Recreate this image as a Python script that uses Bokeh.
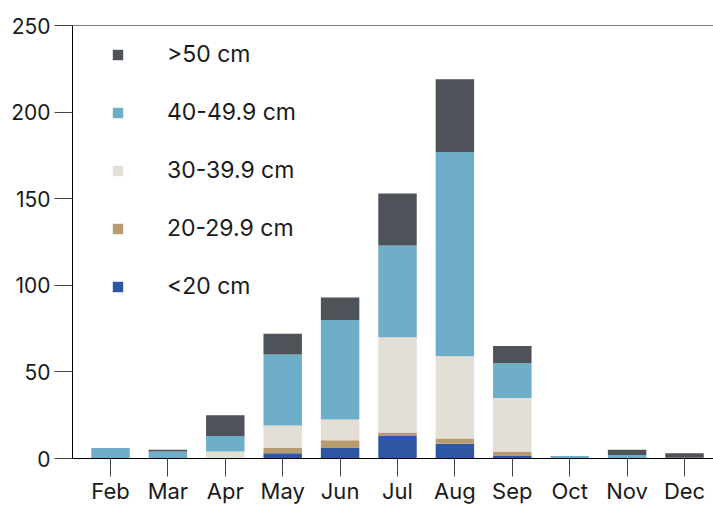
from bokeh.plotting import figure
from bokeh.models import (Range1d, FixedTicker, Legend, LegendItem, Span, ColumnDataSource)
from bokeh.embed import file_html
from bokeh.resources import INLINE

months = ["Feb", "Mar", "Apr", "May", "Jun", "Jul", "Aug", "Sep", "Oct", "Nov", "Dec"]
lt20 = [0, 0, 0, 3, 6, 13, 8.5, 1.5, 0, 0, 0]
s20_29 = [0, 0, 0, 3, 4.5, 2, 3, 2.5, 0, 0, 0.5]
s30_39 = [0, 0, 4, 13, 12, 55, 47.5, 31, 0, 0, 0]
s40_49 = [6, 4, 9, 41, 57.5, 53, 118, 20, 1.5, 2, 0]
gt50 = [0, 1, 12, 12, 13, 30, 42, 10, 0, 3, 2.5]
y_ticks = [0, 50, 100, 150, 200, 250]

series = ["lt20", "s20_29", "s30_39", "s40_49", "gt50"]
labels = ["<20 cm", "20-29.9 cm", "30-39.9 cm", "40-49.9 cm", ">50 cm"]
colors = ["#2d57a5", "#b89c6f", "#e3dfd6", "#6eaec8", "#4e5359"]

src = ColumnDataSource(dict(x=list(range(len(months))), lt20=lt20, s20_29=s20_29,
                            s30_39=s30_39, s40_49=s40_49, gt50=gt50))

FONT = "Inter"
TXT = "#1a1a1a"

p = figure(width=713, height=506, output_backend="svg", toolbar_location=None,
           x_range=Range1d(-0.662, 10.505), y_range=Range1d(0, 250),
           min_border_left=72, min_border_right=0, min_border_top=25, min_border_bottom=46)
p.outline_line_color = None
p.xgrid.grid_line_color = None
p.ygrid.grid_line_color = None

rs = p.vbar_stack(series, x="x", width=0.67, source=src, color=colors, line_color=None)

p.add_layout(Span(location=250, dimension="width", line_color="black", line_width=1))

p.yaxis.ticker = FixedTicker(ticks=y_ticks)
p.xaxis.ticker = FixedTicker(ticks=list(range(len(months))))
p.xaxis.major_label_overrides = {i: m for i, m in enumerate(months)}
for ax in (p.xaxis[0], p.yaxis[0]):
    ax.axis_line_color = "black"
    ax.axis_line_width = 1
    ax.major_tick_line_color = "#444444"
    ax.major_tick_in = 0
    ax.major_tick_out = 18
    ax.minor_tick_line_color = None
    ax.major_label_text_font = FONT
    ax.major_label_text_color = TXT
p.yaxis.major_label_text_font_size = "21px"
p.xaxis.major_label_text_font_size = "22px"
p.yaxis.major_label_standoff = 4
p.xaxis.major_label_standoff = 1

items = [LegendItem(label=labels[i], renderers=[rs[i]]) for i in [4, 3, 2, 1, 0]]
legend = Legend(items=items, location=(39, 158), orientation="vertical",
                glyph_width=13, glyph_height=13, label_standoff=43,
                label_height=28, spacing=30, padding=0, margin=0,
                border_line_color=None, background_fill_alpha=0,
                label_text_font=FONT, label_text_font_size="23px", label_text_color=TXT)
p.add_layout(legend, "center")

open("out.html", "w").write(file_html(p, INLINE))
